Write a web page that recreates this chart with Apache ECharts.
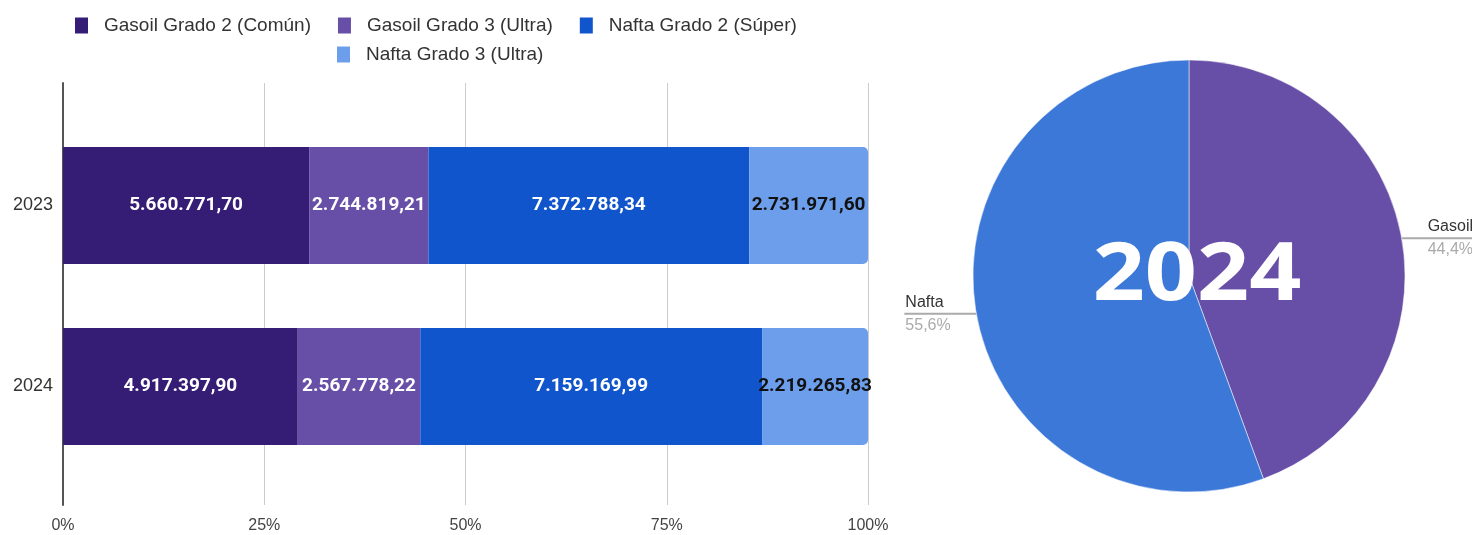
<!DOCTYPE html>
<html>
<head>
<meta charset="utf-8">
<script src="https://cdn.jsdelivr.net/npm/echarts@6/dist/echarts.min.js"></script>
<style>
  html, body { margin: 0; padding: 0; background: #fff; }
  #chart { width: 1472px; height: 535px; }
</style>
</head>
<body>
<div id="chart"></div>
<script>
  // data
  const years = ['2023', '2024'];
  const gasoilG2 = [5660771.70, 4917397.90];
  const gasoilG3 = [2744819.21, 2567778.22];
  const naftaG2 = [7372788.34, 7159169.99];
  const naftaG3 = [2731971.60, 2219265.83];
  const seriesNames = ['Gasoil Grado 2 (Común)', 'Gasoil Grado 3 (Ultra)', 'Nafta Grado 2 (Súper)', 'Nafta Grado 3 (Ultra)'];
  const pieNames = ['Gasoil', 'Nafta'];
  const pieShares = [44.4, 55.6];
  const pieTitle = '2024';

  const colors = ['#351c75', '#674ea7', '#1155cc', '#6d9eeb'];
  const pieColors = ['#674ea7', '#3c78d8'];

  const raw = [gasoilG2, gasoilG3, naftaG2, naftaG3];
  const totals = years.map((y, i) => raw.reduce((s, arr) => s + arr[i], 0));

  // 1.234.567,89
  const fmt = (v) => {
    const parts = v.toFixed(2).split('.');
    return parts[0].replace(/\B(?=(\d{3})+(?!\d))/g, '.') + ',' + parts[1];
  };

  const barSeries = raw.map((arr, k) => ({
    name: seriesNames[k],
    type: 'bar',
    stack: 'total',
    xAxisIndex: 0,
    yAxisIndex: 0,
    barWidth: 117,
    itemStyle: {
      color: colors[k],
      borderRadius: k === 3 ? [0, 5, 5, 0] : 0
    },
    label: {
      show: true,
      position: 'inside',
      color: k === 3 ? '#111' : '#fff',
      fontFamily: 'Roboto',
      fontWeight: 'bold',
      fontSize: 19,
      formatter: (p) => fmt(raw[k][p.dataIndex])
    },
    data: arr.map((v, i) => v / totals[i] * 100)
  }));

  const legendText = { fontFamily: 'Liberation Sans', fontSize: 19, color: '#333', padding: [0, 0, 0, 11] };

  var myChart = echarts.init(document.getElementById('chart'));
  const option = {
    animation: false,
    color: colors,
    legend: [
      {
        data: seriesNames.slice(0, 3),
        left: 70,
        top: 11,
        itemWidth: 13,
        itemHeight: 16,
        itemGap: 27,
        icon: 'rect',
        textStyle: legendText
      },
      {
        data: seriesNames.slice(3),
        left: 332,
        top: 40,
        itemWidth: 13,
        itemHeight: 16,
        icon: 'rect',
        textStyle: legendText
      }
    ],
    grid: [
      { left: 63, width: 805, top: 115, height: 362 },
      { left: 63, width: 805, top: 83, height: 422 }
    ],
    xAxis: [
      { type: 'value', gridIndex: 0, min: 0, max: 100, show: false },
      {
        type: 'value', gridIndex: 1, min: 0, max: 100, interval: 25,
        axisLine: { show: false },
        axisTick: { show: false },
        splitLine: { show: true, lineStyle: { color: '#cccccc', width: 1 } },
        axisLabel: { formatter: '{value}%', margin: 13, fontFamily: 'Liberation Sans', fontSize: 16, color: '#444' }
      }
    ],
    yAxis: [
      {
        type: 'category', gridIndex: 0, data: years, inverse: true,
        axisLine: { show: false },
        axisTick: { show: false },
        axisLabel: { margin: 10, fontFamily: 'Liberation Sans', fontSize: 18, color: '#333' }
      },
      {
        type: 'value', gridIndex: 1, min: 0, max: 1,
        axisLine: { show: true, lineStyle: { color: '#555', width: 2 } },
        axisTick: { show: false },
        axisLabel: { show: false },
        splitLine: { show: false }
      }
    ],
    series: barSeries.concat([
      {
        type: 'pie',
        center: [1189, 276],
        radius: 216,
        right: -80,
        startAngle: 90,
        clockwise: true,
        silent: true,
        itemStyle: { borderColor: 'rgba(255,255,255,0.5)', borderWidth: 1 },
        label: {
          show: true,
          position: 'outside',
          distanceToLabelLine: -46,
          formatter: (p) => '{n|' + p.name + '}\n{v|' + p.value.toFixed(1).replace('.', ',') + '%}',
          rich: {
            n: { fontFamily: 'Liberation Sans', fontSize: 16, color: '#333', lineHeight: 23, width: 45, align: 'left' },
            v: { fontFamily: 'Liberation Sans', fontSize: 16, color: '#aaa', lineHeight: 23, width: 45, align: 'left' }
          }
        },
        labelLine: {
          show: true,
          length: 0,
          length2: 72,
          lineStyle: { color: '#aaa', width: 2 }
        },
        data: pieNames.map((n, i) => ({ name: n, value: pieShares[i], itemStyle: { color: pieColors[i] } }))
      }
    ]),
    graphic: [
      {
        type: 'text',
        x: 1197,
        y: 277,
        scaleX: 1.14,
        z: 100,
        style: {
          text: pieTitle,
          fill: '#fff',
          font: 'bold 80px "Open Sans"',
          align: 'center',
          verticalAlign: 'middle'
        }
      }
    ]
  };
  option && myChart.setOption(option);
</script>
</body>
</html>
